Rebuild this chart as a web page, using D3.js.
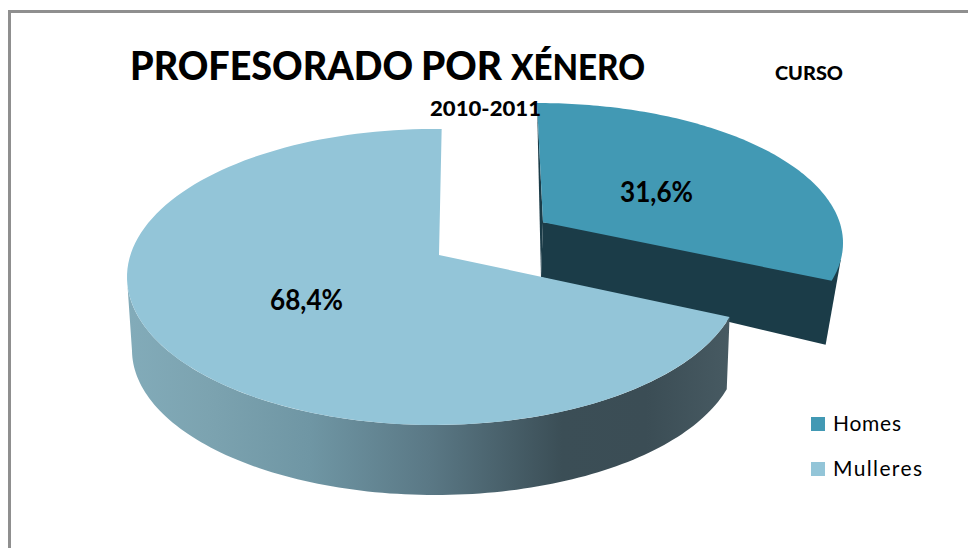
<!DOCTYPE html>
<html><head><meta charset="utf-8">
<script src="https://cdn.jsdelivr.net/npm/d3@7/dist/d3.min.js"></script>
<style>html,body{margin:0;padding:0;background:#fff}svg{display:block}text{font-family:Lato,"Open Sans",sans-serif;fill:#000}</style>
</head><body><svg id="c" width="968" height="548"></svg>
<script>
const categories = ["Homes", "Mulleres"];
const values = [31.6, 68.4];
const topColors = ["#4299B4", "#93C5D8"];
const homesWallColor = "#1B3C48";
const titleParts = [
  {t:"PROFESORADO", x:130, w:283, s:39},
  {t:"POR", x:421, w:81, s:39},
  {t:"XÉNERO", x:511, w:134, s:36}
];

const svg = d3.select("#c");
const tilt = -0.149;      // perspective shift of the pie centre inside its ellipse
const homesTop   = {cx:537, cy:243, rx:306, ry:140};
const mullTop    = {cx:434, cy:277, rx:307, ry:148};
const mullBottom = {cx:435, cy:350, rx:303, ry:145};

const slices = d3.pie().sort(null).value(d => d)(values);
const project = (e, a) => {
  const u = Math.sin(a), v = -Math.cos(a), k = 1 + tilt * v;
  return [e.cx + e.rx * u * Math.sqrt(1 - tilt * tilt) / k, e.cy + e.ry * (v + tilt) / k];
};
const apex = e => [e.cx, e.cy + tilt * e.ry];
const rim = (e, a0, a1) => d3.range(0, 121).map(i => project(e, a0 + (a1 - a0) * i / 120));
const line = d3.line();

// gradient for the Mulleres outer wall
const stops = [[0,"#82ABB9"],[0.13,"#7CA3B0"],[0.3,"#6F96A4"],[0.5,"#5A7885"],[0.72,"#3B4E56"],[0.86,"#3B4D55"],[1,"#475A62"]];
const grad = svg.append("defs").append("linearGradient").attr("id","wall")
  .attr("gradientUnits","userSpaceOnUse").attr("x1",130).attr("x2",730).attr("y1",0).attr("y2",0);
grad.selectAll("stop").data(stops).join("stop").attr("offset",d=>d[0]).attr("stop-color",d=>d[1]);

// frame
svg.append("path").attr("d","M9.5,548V11.5H968").attr("fill","none").attr("stroke","#8F8F8F").attr("stroke-width",3);

// Homes slice
const hs = slices[0];
const hCorner = project(homesTop, hs.endAngle);
const hApex = apex(homesTop);
const hInner = [hApex[0]+6, hApex[1]];
const hInnerLow = [hApex[0]+4, hApex[1]+55];
const hg = svg.append("g");
hg.append("path").attr("fill",homesWallColor).attr("d", line([
  hInner, project(homesTop, 105.4*Math.PI/180), [hCorner[0]-6,hCorner[1]+64], hInnerLow
])+"Z");
hg.append("path").attr("fill",homesWallColor).attr("d", line([
  project(homesTop,0), hInner, hInnerLow
])+"Z");
hg.append("path").attr("fill",topColors[0]).attr("d", line([
  hInner, ...rim(homesTop, hs.startAngle, hs.endAngle)
])+"Z");

// Mulleres slice
const ms = slices[1];
const leftA = 261*Math.PI/180;
const wallTop = rim(mullTop, ms.startAngle, leftA);
const wallBot = rim(mullBottom, ms.startAngle, leftA).reverse();
svg.append("path").attr("fill","url(#wall)").attr("d", line([...wallTop, ...wallBot])+"Z");
const mApex = apex(mullTop);
svg.append("path").attr("fill",topColors[1]).attr("d", line([
  [mApex[0]+5,mApex[1]], ...rim(mullTop, ms.startAngle, ms.endAngle + 0.029)
])+"Z");

// value labels
const labelPos = [[620,202],[270,310]];
svg.selectAll("text.val").data(values).join("text").attr("class","val")
  .attr("x",(d,i)=>labelPos[i][0]).attr("y",(d,i)=>labelPos[i][1])
  .attr("font-size",28).attr("font-weight",700)
  .attr("textLength",73).attr("lengthAdjust","spacingAndGlyphs")
  .text(d => d.toFixed(1).replace(".",",") + "%");

// titles
svg.selectAll("text.title").data(titleParts).join("text").attr("class","title")
  .attr("x",d=>d.x).attr("y",80).attr("font-size",d=>d.s).attr("font-weight",900)
  .attr("textLength",d=>d.w).attr("lengthAdjust","spacingAndGlyphs").text(d=>d.t);
svg.append("text").attr("x",775).attr("y",80).attr("font-size",18).attr("font-weight",900)
  .attr("textLength",68).attr("lengthAdjust","spacingAndGlyphs").text("CURSO");
svg.append("text").attr("x",430).attr("y",116).attr("font-size",20).attr("font-weight",900)
  .attr("textLength",111).attr("lengthAdjust","spacingAndGlyphs").text("2010-2011");

// legend
const lg = svg.selectAll("g.lg").data(categories).join("g").attr("class","lg")
  .attr("transform",(d,i)=>`translate(811,${417+45*i})`);
lg.append("rect").attr("width",14).attr("height",14).attr("fill",(d,i)=>topColors[i]);
lg.append("text").attr("x",22).attr("y",14).attr("font-size",21)
  .attr("textLength",(d,i)=>[68,89][i]).attr("lengthAdjust","spacing").text(d=>d);
</script></body></html>
